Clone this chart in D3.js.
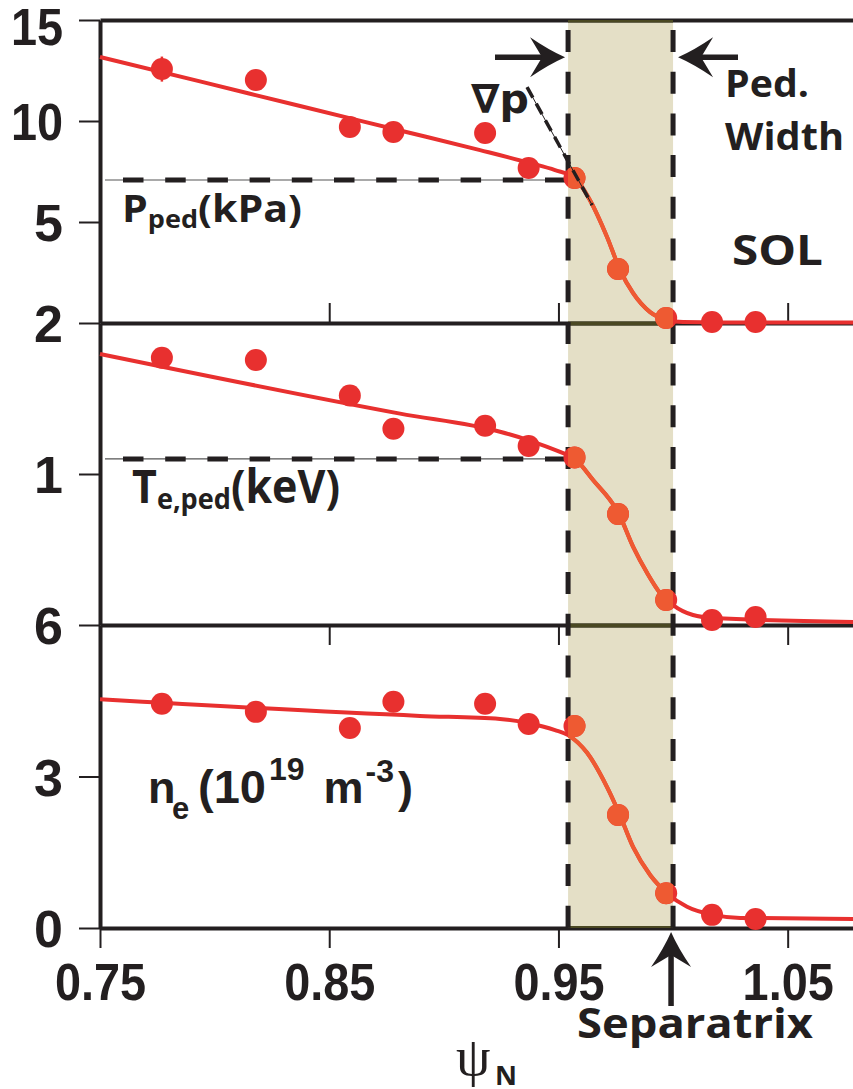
<!DOCTYPE html>
<html>
<head>
<meta charset="utf-8">
<script src="https://cdn.jsdelivr.net/npm/d3@7"></script>
<style>
  html, body { margin: 0; padding: 0; background: #fff; }
  svg { display: block; }
</style>
</head>
<body>
<svg id="chart" width="853" height="1089"></svg>
<script>
// ---- Measurements vs normalized poloidal flux ----
const psi = [0.777, 0.818, 0.859, 0.878, 0.918, 0.937, 0.957, 0.976, 0.997, 1.017, 1.036];
const pressure = [12.57, 12.03, 9.70, 9.46, 9.41, 7.67, 7.18, 2.67, 0.25, 0.05, 0.05];   // kPa
const pressureErr = [0.62, 0, 0, 0, 0, 0, 0, 0, 0, 0, 0];
const teKeV = [1.77, 1.755, 1.52, 1.30, 1.32, 1.185, 1.11, 0.735, 0.166, 0.033, 0.053];  // keV
const neDens = [4.44, 4.28, 3.96, 4.48, 4.44, 4.04, 4.00, 2.24, 0.69, 0.26, 0.18];       // 1e19 m^-3

// ---- Fitted profiles (sampled) ----
const fitPsiP = [0.75, 0.7936, 0.8373, 0.8809, 0.9158, 0.9376, 0.9485, 0.9572, 0.9637, 0.9712, 0.9769, 0.9825, 0.9900, 0.9974, 1.0044, 1.0205, 1.0785];
const fitP    = [13.17, 11.96, 10.74, 9.53, 8.56, 7.92, 7.57, 7.18, 6.09, 4.26, 2.62, 1.49, 0.54, 0.15, 0.05, 0.03, 0.03];
const fitPsiTe = [0.75, 0.8809, 0.9245, 0.9367, 0.9507, 0.9572, 0.9651, 0.9764, 0.9826, 0.9887, 0.9943, 1.0, 1.0087, 1.0175, 1.0785];
const fitTe    = [1.795, 1.40, 1.28, 1.225, 1.146, 1.10, 0.96, 0.735, 0.517, 0.344, 0.212, 0.132, 0.066, 0.046, 0.02];
const fitPsiNe = [0.75, 0.8896, 0.9245, 0.9367, 0.9485, 0.9542, 0.9625, 0.9712, 0.9764, 0.9826, 0.9900, 0.9974, 1.0061, 1.0175, 1.0293, 1.0785];
const fitNe    = [4.53, 4.20, 4.14, 4.06, 3.92, 3.82, 3.47, 2.79, 2.28, 1.60, 1.05, 0.69, 0.42, 0.26, 0.20, 0.18];

// ---- Axis ticks ----
const xTicks = [0.75, 0.85, 0.95, 1.05];
const pTicks = [5, 10, 15];
const teTicks = [1, 2];
const neTicks = [0, 3, 6];

// ---- Pedestal quantities ----
const pedStartPsi = 0.9542;     // pedestal top (inner edge of pedestal width)
const separatrixPsi = 1.0;
const pPed = 7.08;              // kPa
const tePed = 1.10;             // keV
// pressure gradient tangent: [psi, p] end points
const gradPsi = [0.9363, 0.9647];
const gradP = [11.68, 5.84];

// ---- Styles ----
const INK = "#231f20";
const RED = "#e8302f";
const ORANGE = "#ee5a32";
const BAND = "#e4dfc6";
const OLIVE = "#4a4822";
const SANS = "'Open Sans', 'Noto Sans', sans-serif";
const TICKFONT = "'Liberation Sans', Arial, sans-serif";

const svg = d3.select("#chart");
const x = d3.scaleLinear().domain([0.75, 1.0785]).range([100, 853]);

const panels = [
  { top: 20,  bottom: 323, domain: [0, 15], ticks: pTicks,  values: pressure, fx: fitPsiP,  fy: fitP },
  { top: 323, bottom: 625, domain: [0, 2],  ticks: teTicks, values: teKeV,    fx: fitPsiTe, fy: fitTe },
  { top: 625, bottom: 928, domain: [0, 6],  ticks: neTicks, values: neDens,   fx: fitPsiNe, fy: fitNe }
];
panels.forEach(p => { p.y = d3.scaleLinear().domain(p.domain).range([p.bottom, p.top]); });

const plotTop = panels[0].top, plotBottom = panels[2].bottom;
const bandX0 = x(pedStartPsi), bandX1 = x(separatrixPsi);

// clip region for the pedestal band
svg.append("defs").append("clipPath").attr("id", "bandClip")
  .append("rect").attr("x", bandX0).attr("y", plotTop)
  .attr("width", bandX1 - bandX0).attr("height", plotBottom - plotTop);

// ---- Pedestal width band ----
svg.append("rect")
  .attr("x", bandX0).attr("y", plotTop)
  .attr("width", bandX1 - bandX0).attr("height", plotBottom - plotTop)
  .attr("fill", BAND);

// ---- Axes ----
function styleAxis(g) {
  g.select(".domain").attr("stroke", INK).attr("stroke-width", 4);
  g.selectAll(".tick line").attr("stroke", INK).attr("stroke-width", 2);
  g.selectAll("text")
    .attr("fill", INK)
    .attr("font-family", TICKFONT)
    .attr("font-weight", "bold")
    .attr("font-size", 52);
}
function narrowTicks(g) {
  g.selectAll("text").each(function () {
    if (this.textContent.length > 1) {
      const w = this.getComputedTextLength();
      d3.select(this).attr("textLength", w * 0.9).attr("lengthAdjust", "spacingAndGlyphs");
    }
  });
}

const axes = svg.append("g");
panels.forEach((p, i) => {
  const g = axes.append("g").attr("transform", `translate(${x.range()[0]},0)`)
    .call(d3.axisLeft(p.y).tickValues(p.ticks).tickFormat(d3.format("d"))
      .tickSize(21).tickSizeOuter(0).tickPadding(16));
  styleAxis(g);
  // the topmost label sits just inside the page edge
  g.selectAll("text").attr("dy", d => (i === 0 && d === p.domain[1]) ? "0.48em" : "0.36em");
  narrowTicks(g);
});

// frame lines across the panels
function frameLines(parent, color) {
  const gTop = parent.append("g").attr("transform", `translate(0,${plotTop})`)
    .call(d3.axisTop(x).tickValues([]).tickSizeOuter(0));
  const gMid1 = parent.append("g").attr("transform", `translate(0,${panels[0].bottom})`)
    .call(d3.axisTop(x).tickValues(xTicks.slice(1)).tickSize(20).tickSizeOuter(0).tickFormat(""));
  const gMid2 = parent.append("g").attr("transform", `translate(0,${panels[1].bottom})`)
    .call(d3.axisBottom(x).tickValues(xTicks.slice(1)).tickSize(20).tickSizeOuter(0).tickFormat(""));
  [gTop, gMid1, gMid2].forEach(g => {
    styleAxis(g);
    g.select(".domain").attr("stroke", color);
    g.selectAll(".tick line").attr("stroke", color);
  });
}
frameLines(axes, INK);

const xAxis = axes.append("g").attr("transform", `translate(0,${plotBottom})`)
  .call(d3.axisBottom(x).tickValues(xTicks).tickSize(20).tickSizeOuter(0).tickPadding(15)
    .tickFormat(d3.format(".2f")));
styleAxis(xAxis);
narrowTicks(xAxis);

// olive tint of frame lines inside the band
const bandLines = svg.append("g").attr("clip-path", "url(#bandClip)");
frameLines(bandLines, OLIVE);
bandLines.append("line")
  .attr("x1", x.range()[0]).attr("x2", x.range()[1])
  .attr("y1", plotBottom).attr("y2", plotBottom)
  .attr("stroke", OLIVE).attr("stroke-width", 4);

// ---- Pedestal-top dashed markers ----
function pedLine(yPix) {
  const x0 = x(0.75) + 5, x1 = bandX0;
  svg.append("line").attr("x1", x0).attr("x2", x1).attr("y1", yPix).attr("y2", yPix)
    .attr("stroke", "#555").attr("stroke-width", 1.2);
  svg.append("line").attr("x1", x0).attr("x2", x1).attr("y1", yPix).attr("y2", yPix)
    .attr("stroke", INK).attr("stroke-width", 5)
    .attr("stroke-dasharray", "20.5,21.7").attr("stroke-dashoffset", 24.2);
}
pedLine(panels[0].y(pPed));
pedLine(panels[1].y(tePed));

// ---- Vertical dashed lines: pedestal top and separatrix ----
[pedStartPsi, separatrixPsi].forEach(v => {
  svg.append("line")
    .attr("x1", x(v)).attr("x2", x(v)).attr("y1", plotTop).attr("y2", plotBottom)
    .attr("stroke", INK).attr("stroke-width", 5)
    .attr("stroke-dasharray", "22,19.7").attr("stroke-dashoffset", 31.7);
});

// ---- Profiles: fits and measurements ----
function drawSeries(parent, color) {
  panels.forEach((p, i) => {
    const line = d3.line().x(d => x(d[0])).y(d => p.y(d[1])).curve(d3.curveMonotoneX);
    parent.append("path").datum(d3.zip(p.fx, p.fy))
      .attr("d", line).attr("fill", "none")
      .attr("stroke", color).attr("stroke-width", 4).attr("stroke-linejoin", "round");
    if (i === 0) {
      parent.selectAll(null).data(d3.zip(psi, pressure, pressureErr).filter(d => d[2] > 0))
        .join("line")
        .attr("x1", d => x(d[0])).attr("x2", d => x(d[0]))
        .attr("y1", d => p.y(d[1] + d[2])).attr("y2", d => p.y(d[1] - d[2]))
        .attr("stroke", color).attr("stroke-width", 2.5);
    }
    parent.selectAll(null).data(d3.zip(psi, p.values)).join("circle")
      .attr("cx", d => x(d[0])).attr("cy", d => p.y(d[1])).attr("r", 11)
      .attr("fill", color);
  });
}
drawSeries(svg.append("g"), RED);
drawSeries(svg.append("g").attr("clip-path", "url(#bandClip)"), ORANGE);

// ---- Pressure gradient tangent ----
const gy = panels[0].y;
svg.append("line")
  .attr("x1", x(gradPsi[0])).attr("y1", gy(gradP[0])).attr("x2", x(gradPsi[1])).attr("y2", gy(gradP[1]))
  .attr("stroke", INK).attr("stroke-width", 1);
svg.append("line")
  .attr("x1", x(gradPsi[0])).attr("y1", gy(gradP[0])).attr("x2", x(gradPsi[1])).attr("y2", gy(gradP[1]))
  .attr("stroke", INK).attr("stroke-width", 3.5).attr("stroke-dasharray", "12,7");

// ---- Arrows ----
function arrowHead(tx, ty, angleDeg) {
  const g = svg.append("g").attr("transform", `translate(${tx},${ty}) rotate(${angleDeg})`);
  // tip at origin, pointing along +x
  g.append("path")
    .attr("d", "M0,0 Q-16,-7 -35,-20 L-23,0 L-35,20 Q-16,7 0,0 Z")
    .attr("fill", INK);
}
function shaft(x1, y1, x2, y2) {
  svg.append("line").attr("x1", x1).attr("y1", y1).attr("x2", x2).attr("y2", y2)
    .attr("stroke", INK).attr("stroke-width", 5.5);
}
const arrowY = gy(13.15);
shaft(495, arrowY, bandX0 - 25, arrowY);
arrowHead(bandX0 - 3, arrowY, 0);
shaft(bandX1 + 25, arrowY, 738, arrowY);
arrowHead(bandX1 + 5, arrowY, 180);
const sepX = x(separatrixPsi) - 2;
shaft(sepX, plotBottom + 25, sepX, 1006);
arrowHead(sepX, plotBottom + 4, -90);

// ---- Labels ----
function label(txt, lx, ly, size, len, family) {
  const t = svg.append("text").attr("x", lx).attr("y", ly)
    .attr("font-family", family || SANS).attr("font-weight", 700)
    .attr("font-size", size).attr("fill", INK).text(txt);
  if (len) t.attr("textLength", len).attr("lengthAdjust", "spacingAndGlyphs");
  return t;
}
label("Ped.", 725, 97, 38, 84);
label("Width", 725, 150, 38, 119);
label("SOL", 732, 265, 42, 91);
label("\u2207p", 471, 113, 40, 58, "'DejaVu Sans', " + SANS);
label("Separatrix", 577, 1038, 41, 236);

// P_ped(kPa)
const pl = svg.append("text").attr("x", 122).attr("y", 222)
  .attr("font-family", SANS).attr("font-weight", 700).attr("fill", INK)
  .attr("textLength", 180).attr("lengthAdjust", "spacingAndGlyphs");
pl.append("tspan").attr("font-size", 38).text("P");
pl.append("tspan").attr("font-size", 25).attr("dy", 6).text("ped");
pl.append("tspan").attr("font-size", 38).attr("dy", -6).text("(kPa)");

// T_e,ped(keV)
const tl = svg.append("text").attr("x", 132).attr("y", 503)
  .attr("font-family", SANS).attr("font-weight", 700).attr("fill", INK)
  .attr("textLength", 208).attr("lengthAdjust", "spacingAndGlyphs");
tl.append("tspan").attr("font-size", 46).text("T");
tl.append("tspan").attr("font-size", 29).attr("dy", 6).text("e,ped");
tl.append("tspan").attr("font-size", 46).attr("dy", -6).text("(keV)");

// n_e (10^19 m^-3)
const nl = svg.append("text").attr("y", 803)
  .attr("font-family", TICKFONT).attr("font-weight", 700).attr("fill", INK);
nl.append("tspan").attr("x", 148).attr("font-size", 45).text("n");
nl.append("tspan").attr("x", 172).attr("font-size", 31).attr("dy", 16).text("e");
nl.append("tspan").attr("x", 198).attr("font-size", 47).attr("dy", -16).text("(10");
nl.append("tspan").attr("dx", 3).attr("font-size", 32).attr("dy", -23).text("19");
nl.append("tspan").attr("dx", 19).attr("font-size", 45).attr("dy", 23).text("m");
nl.append("tspan").attr("dx", 2).attr("font-size", 32).attr("dy", -21).text("-3");
nl.append("tspan").attr("dx", 4).attr("font-size", 45).attr("dy", 21).text(")");

// psi_N
svg.append("text").attr("x", 456).attr("y", 1075)
  .attr("font-family", "'Liberation Serif', 'DejaVu Serif', serif")
  .attr("font-size", 55).attr("fill", INK).text("\u03C8");
svg.append("text").attr("x", 495).attr("y", 1085)
  .attr("font-family", SANS).attr("font-weight", 700)
  .attr("font-size", 27).attr("fill", INK).text("N");
</script>
</body>
</html>
